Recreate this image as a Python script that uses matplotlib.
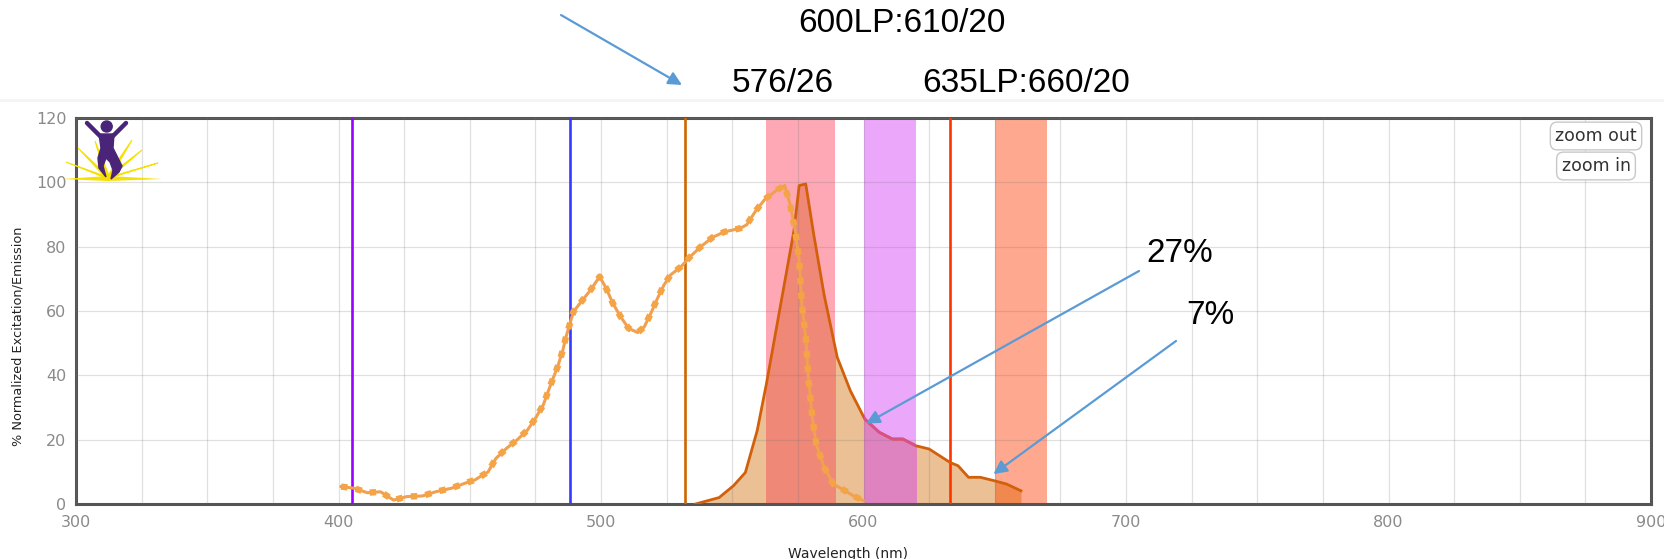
import matplotlib
matplotlib.use("Agg")
import matplotlib.pyplot as plt
from matplotlib.patches import Rectangle, Polygon, Ellipse
from matplotlib.lines import Line2D
import numpy as np

# ---------------- data ----------------
x_ticks = [300, 400, 500, 600, 700, 800, 900]
y_ticks = [0, 20, 40, 60, 80, 100, 120]

laser_nm = [405, 488, 532, 633]
laser_colors = ["#9A00FF", "#3838FF", "#CC6600", "#FF3300"]

band_lo = [563, 600, 650]
band_hi = [589, 620, 670]
band_colors = ["#FFA8B5", "#EBA8FA", "#FFA890"]
band_on_fill = ["#F08878", "#DE82C0", "#F08850"]

em_x = [536, 545, 550.5, 555, 559.5, 563, 568, 573.5, 575.5, 578, 581, 585, 590, 595,
        600.5, 606, 611, 615, 620, 625, 633, 636, 640, 644.5, 649.5, 654.5, 660]
em_y = [0, 2, 5.7, 9.8, 22.8, 37.3, 60, 85, 99, 99.5, 84, 65, 45.6, 35.2,
        26.4, 22.3, 20.2, 20.2, 18.1, 17.1, 12.9, 11.9, 8.3, 8.3, 7.3, 6.2, 4.1]

ex_x = [401, 406, 411, 416, 421, 426, 432, 437, 443, 448, 452, 457, 460, 464, 468,
        472, 475, 478, 481, 483.5, 485.5, 486.5, 488, 489.5, 492.5, 496, 499.5, 502,
        504.5, 507.5, 510.5, 514, 516.5, 519, 521.5, 524, 526.5, 530.5, 534, 538,
        542.5, 547, 553, 555.5, 559, 562.5, 567, 570, 572, 574, 575.5, 576.5, 578,
        579, 580.5, 582, 585, 588.5, 593, 596, 600]
ex_y = [5.4, 4.9, 3.5, 3.8, 1.2, 2.3, 2.5, 3.8, 4.9, 6.4, 7.5, 10, 14.2, 17.3, 19.9,
        23, 26.6, 30.8, 37.5, 42.7, 47.9, 51.5, 55.6, 59.8, 62.9, 66.5, 70.7, 67,
        62.4, 58.2, 54.6, 53.3, 55.1, 59.3, 63.9, 68.1, 71.2, 73.8, 76.9, 80,
        82.9, 84.6, 85.7, 86.8, 91.2, 94.8, 97.6, 99, 93.2, 85, 75.6, 62.2, 51.8,
        39.4, 26.9, 18.6, 11.4, 6.2, 4.1, 2.6, 1]

top_labels = ["600LP:610/20", "576/26", "635LP:660/20"]
pct_labels = ["27%", "7%"]
pct_targets_x = [601, 649.5]
pct_targets_y = [25, 9.3]

# ---------------- figure ----------------
W, H = 1664, 559
fig = plt.figure(figsize=(W / 100, H / 100), dpi=100)
fig.patch.set_facecolor("white")


def fx(x):
    return x / W


def fy(y):
    return 1 - y / H


ax = fig.add_axes([fx(76), fy(504), (1651 - 76) / W, (504 - 118) / H])
ax.set_xlim(300, 900)
ax.set_ylim(0, 120)
ax.set_axisbelow(False)

ax.set_xticks(x_ticks)
ax.set_xticks(np.arange(300, 901, 25), minor=True)
ax.set_yticks(y_ticks)
ax.tick_params(which="both", length=0)
ax.tick_params(axis="x", pad=8, labelsize=11.5, labelcolor="#8a8a8a")
ax.tick_params(axis="y", pad=7, labelsize=11.5, labelcolor="#8a8a8a")
ax.grid(which="both", color=(0.45, 0.45, 0.45), alpha=0.22, lw=0.9)
for s in ax.spines.values():
    s.set_color("#555555")
    s.set_linewidth(2.2)

# filter bands
for lo, hi, c in zip(band_lo, band_hi, band_colors):
    ax.axvspan(lo, hi, color=c, lw=0, zorder=1)

# emission fill
ax.fill_between(em_x, em_y, 0, color="#EBC095", lw=0, zorder=2)
for lo, hi, c in zip(band_lo, band_hi, band_on_fill):
    poly = ax.fill_between(em_x, em_y, 0, color=c, lw=0, zorder=2.1)
    poly.set_clip_path(Rectangle((lo, 0), hi - lo, 120, transform=ax.transData))

# laser lines
for nm, c in zip(laser_nm, laser_colors):
    ax.axvline(nm, color=c, lw=1.9, zorder=3)

# emission line
ax.plot(em_x, em_y, color="#D2600A", lw=2.0, zorder=4, solid_joinstyle="round")
vl, = ax.plot(em_x, em_y, color="#D85090", lw=2.0, zorder=4.1)
vl.set_clip_path(Rectangle((band_lo[1], 0), band_hi[1] - band_lo[1], 120,
                           transform=ax.transData))

# excitation line (dotted squares)
ax.plot(ex_x, ex_y, color="#F0A050", lw=2.2, zorder=5)
ax.plot(ex_x, ex_y, color="#F5A445", lw=4.6, ls=(0, (1, 1.3)),
        dash_capstyle="butt", zorder=5.1)

# faint screenshot boundary line
fig.add_artist(Line2D([0, 1], [fy(100), fy(100)], transform=fig.transFigure,
                      color="#f4f4f4", lw=2))

# axis labels
fig.text(fx(18), fy(336), "% Normalized Excitation/Emission", rotation=90,
         ha="center", va="center", fontsize=9.3, color="#222222")
fig.text(fx(848), fy(547), "Wavelength (nm)", ha="center", va="top",
         fontsize=10, color="#222222")

# zoom buttons
for txt, (bx, by) in zip(["zoom out", "zoom in"], [(1596, 136), (1596, 166)]):
    fig.text(fx(bx), fy(by), txt, ha="center", va="center", fontsize=12.5,
             color="#333333",
             bbox=dict(boxstyle="round,pad=0.28,rounding_size=0.4",
                       fc="white", ec="#c8c8c8", lw=1))

# logo
cxp, cyp = 108, 178
rays = [(66, 162), (78, 148), (95, 141), (132, 140), (142, 150), (158, 163)]
for rx, ry in rays:
    fig.add_artist(Polygon([(fx(cxp - 2), fy(cyp)), (fx(cxp + 2), fy(cyp)),
                            (fx(rx), fy(ry))], closed=True,
                           transform=fig.transFigure, color="#F6E000", lw=0.8))
fig.add_artist(Polygon([(fx(62), fy(179)), (fx(108), fy(176)), (fx(162), fy(179)),
                        (fx(108), fy(181))], closed=True,
                       transform=fig.transFigure, color="#F6E000", lw=0))
purple = "#4A2478"
fig.add_artist(Ellipse((fx(106.7), fy(126.5)), 11 / W, 11 / H,
                       transform=fig.transFigure, color=purple))
for (x0, y0, x1, y1) in [(102, 138, 87, 123), (111, 138, 126, 123)]:
    fig.add_artist(Line2D([fx(x0), fx(x1)], [fy(y0), fy(y1)],
                          transform=fig.transFigure, color=purple, lw=3.2,
                          solid_capstyle="round"))
body = [(99, 134), (114, 134), (113, 148), (117, 156), (122, 166), (119, 172),
        (111, 179), (113, 170), (110, 162), (106, 158), (103, 166), (106, 177),
        (99, 168), (98, 158), (101, 148)]
fig.add_artist(Polygon([(fx(a), fy(b)) for a, b in body], closed=True,
                       transform=fig.transFigure, color=purple))

# top labels
lab_font = dict(family=["Liberation Sans", "DejaVu Sans"], fontsize=24, color="black")
for txt, (tx, ty) in zip(top_labels, [(902, 23), (783, 84), (1026, 84)]):
    fig.text(fx(tx), fy(ty), txt, ha="center", va="center", **lab_font)
for txt, (tx, ty) in zip(pct_labels, [(1180, 253), (1210, 316)]):
    fig.text(fx(tx), fy(ty), txt, ha="center", va="center", **lab_font)

arrow_kw = dict(arrowstyle="-|>", color="#5B9BD5", lw=1.6, mutation_scale=20,
                shrinkA=0, shrinkB=0)
# top-left arrow
ax.annotate("", xy=(682, H - 85), xycoords="figure pixels",
            xytext=(561, H - 15), textcoords="figure pixels",
            arrowprops=arrow_kw, annotation_clip=False)
# percentage arrows
for tx, ty, (sx, sy) in zip(pct_targets_x, pct_targets_y, [(1139, 271), (1176, 341)]):
    ax.annotate("", xy=(tx, ty), xycoords="data",
                xytext=(sx, H - sy), textcoords="figure pixels",
                arrowprops=arrow_kw, annotation_clip=False, zorder=6)

fig.savefig("out.png", dpi=100)
